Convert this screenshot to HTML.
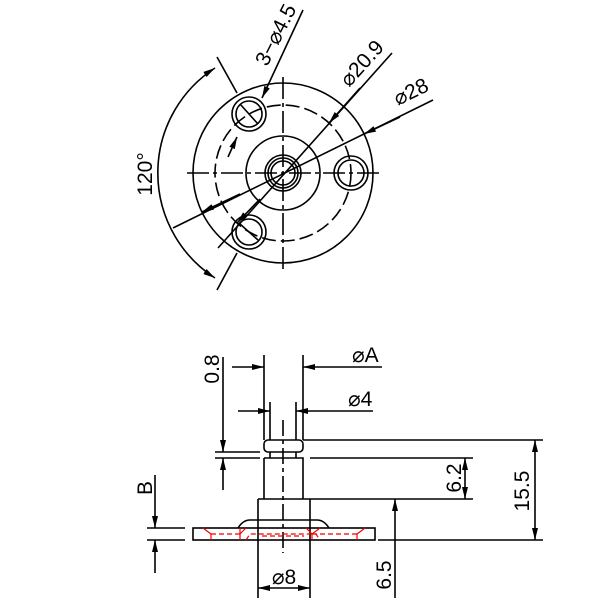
<!DOCTYPE html>
<html><head><style>body{margin:0;background:#fff}svg{display:block}text{font-family:"Liberation Sans","DejaVu Sans",sans-serif;font-size:21px;fill:#000}</style></head><body>
<svg width="600" height="600" viewBox="0 0 600 600" xmlns="http://www.w3.org/2000/svg">
<defs>
<marker id="a" markerWidth="12" markerHeight="6" refX="12" refY="3" orient="auto-start-reverse" markerUnits="userSpaceOnUse"><path d="M0,0 L12,3 L0,6z" fill="#000"/></marker>
</defs>
<g stroke="#000" stroke-width="1.6" fill="none">
<circle cx="283" cy="173" r="90"/>
<circle cx="283" cy="173" r="68" stroke-dasharray="14,5"/>
<circle cx="283" cy="173" r="37"/>
<circle cx="283" cy="173" r="18"/>
<circle cx="283" cy="173" r="15"/>
<circle cx="283" cy="173" r="12"/>
<circle cx="351" cy="173" r="17"/><circle cx="351" cy="173" r="13"/>
<circle cx="249" cy="114" r="17"/><circle cx="249" cy="114" r="13"/>
<circle cx="249" cy="232" r="17"/><circle cx="249" cy="232" r="13"/>
<line x1="187" y1="173" x2="380" y2="173" stroke-dasharray="22,4,4,4"/>
<line x1="283" y1="77" x2="283" y2="270" stroke-dasharray="22,4,4,4"/>
<line x1="240" y1="104" x2="258" y2="124"/>
<line x1="240" y1="224" x2="258" y2="240"/>
<line x1="303" y1="10" x2="262" y2="98" marker-end="url(#a)"/>
<line x1="228" y1="157" x2="237" y2="137" marker-end="url(#a)"/>
<line x1="392" y1="53" x2="218" y2="248"/>
<line x1="360" y1="88" x2="329" y2="123" marker-end="url(#a)"/>
<line x1="260" y1="199" x2="237" y2="223" marker-end="url(#a)"/>
<line x1="433" y1="100" x2="173" y2="228"/>
<line x1="400" y1="117" x2="364" y2="134" marker-end="url(#a)"/>
<line x1="240" y1="194" x2="202" y2="212" marker-end="url(#a)"/>
<path d="M215,68 A125,125 0 0,0 215,278" marker-start="url(#a)" marker-end="url(#a)"/>
<line x1="217" y1="57" x2="237" y2="93"/>
<line x1="217" y1="290" x2="237" y2="253"/>
<rect x="264" y="440" width="39" height="12" rx="4"/>
<path d="M270,452 V458 M296,452 V458"/>
<path d="M264,458 H303 V499 M264,458 V499"/>
<path d="M258,499 H310"/>
<path d="M258,499 V520 M310,499 V520"/>
<path d="M238,528 Q243,520 250,520 H317 Q324,520 329,528"/>
<rect x="193" y="528" width="182" height="12"/>
<path d="M258,520 V598 M310,520 V598"/>
<line x1="283" y1="420" x2="283" y2="553" stroke-dasharray="16,4,4,4"/>
<path d="M264,440 V355 M303,440 V355 M270,440 V402 M296,440 V402"/>
<line x1="232" y1="367" x2="264" y2="367" marker-end="url(#a)"/>
<line x1="382" y1="367" x2="303" y2="367" marker-end="url(#a)"/>
<line x1="238" y1="411" x2="270" y2="411" marker-end="url(#a)"/>
<line x1="373" y1="411" x2="296" y2="411" marker-end="url(#a)"/>
<path d="M215,452 H260 M215,458 H260"/>
<line x1="223" y1="357" x2="223" y2="452" marker-end="url(#a)"/>
<line x1="223" y1="490" x2="223" y2="458" marker-end="url(#a)"/>
<path d="M303,440 H543 M310,458 H473 M310,499 H473 M378,540 H543"/>
<line x1="465" y1="458" x2="465" y2="499" marker-start="url(#a)" marker-end="url(#a)"/>
<line x1="535" y1="440" x2="535" y2="540" marker-start="url(#a)" marker-end="url(#a)"/>
<line x1="395" y1="499" x2="395" y2="540" marker-start="url(#a)"/>
<line x1="395" y1="540" x2="395" y2="598"/>
<path d="M147,528 H185 M147,540 H185"/>
<line x1="155" y1="475" x2="155" y2="528" marker-end="url(#a)"/>
<line x1="155" y1="573" x2="155" y2="540" marker-end="url(#a)"/>
<line x1="258" y1="588" x2="310" y2="588" marker-start="url(#a)" marker-end="url(#a)"/>
</g>
<g stroke="#e00" stroke-width="1.2" fill="none">
<path d="M203,528 L211,534 V540 M320,528 L312,534 V540 M365,528 L357,534 V540"/>
<path d="M211,534 H240 M312,534 H357" stroke-dasharray="5,3"/>
<path d="M240,528 V540 M240,534 L246,528 M312,534 L306,528"/>
<path d="M246,540 L250,534 H316 L320,540" stroke-dasharray="5,3"/>
<path d="M262,536 H304" stroke-dasharray="5,3"/>
</g>
<text transform="translate(282,38) rotate(-63)" text-anchor="middle">3−⌀4.5</text>
<text transform="translate(367,68) rotate(-48)" text-anchor="middle">⌀20.9</text>
<text transform="translate(414,98) rotate(-26)" text-anchor="middle">⌀28</text>
<text transform="translate(152,174) rotate(-90)" text-anchor="middle">120°</text>
<text x="352" y="362">⌀A</text>
<text x="348" y="406">⌀4</text>
<text transform="translate(219,369) rotate(-90)" text-anchor="middle">0.8</text>
<text transform="translate(461,478) rotate(-90)" text-anchor="middle">6.2</text>
<text transform="translate(529,491) rotate(-90)" text-anchor="middle">15.5</text>
<text transform="translate(391,575) rotate(-90)" text-anchor="middle">6.5</text>
<text transform="translate(152,488) rotate(-90)" text-anchor="middle">B</text>
<text x="284" y="584" text-anchor="middle">⌀8</text>
</svg>
</body></html>
